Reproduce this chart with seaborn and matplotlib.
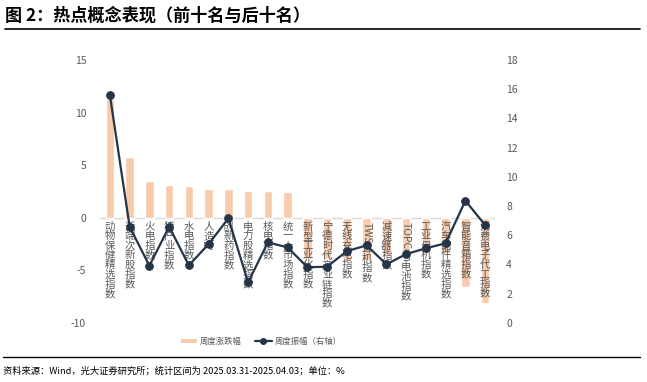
"""Hot concept indices: weekly change (bars) and weekly amplitude (line, right axis)."""
import re
import numpy as np
import pandas as pd
import matplotlib
matplotlib.use('Agg')
import matplotlib.pyplot as plt
import matplotlib.transforms as mtransforms
from matplotlib.lines import Line2D
from matplotlib.patches import Patch
import seaborn as sns

categories = ['动物保健精选指数', '近端次新股指数', '火电指数', '猪产业指数', '水电指数',
              '人造肉', '创新药指数', '电力股精选指数', '核电指数', '统一大市场指数',
              '新型工业化指数', '宁德时代产业链指数', '无线充电指数', 'TWS耳机指数', '减速器指数',
              'TOPCon电池指数', '工业母机指数', '汽车配件精选指数', '智能音箱指数', '消费电子代工指数']
weekly_change = [11.65, 5.73, 3.5, 3.07, 3.0, 2.77, 2.7, 2.54, 2.54, 2.47,
                 -3.9, -3.9, -4.1, -4.0, -3.6, -3.5, -3.4, -3.4, -6.6, -8.1]
weekly_amplitude = [15.6, 6.58, 3.9, 6.58, 3.93, 5.39, 7.15, 2.77, 5.5, 5.16,
                    3.8, 3.84, 4.9, 5.3, 4.0, 4.7, 5.1, 5.44, 8.36, 6.69]
left_ticks = [-10, -5, 0, 5, 10, 15]
right_ticks = [0, 2, 4, 6, 8, 10, 12, 14, 16, 18]

BAR = '#F8CBAD'
LINE = '#253447'
GRAY = '#595959'

sns.set_style('white')
plt.rcParams['font.family'] = ['Noto Sans CJK SC', 'DejaVu Sans']
plt.rcParams['axes.unicode_minus'] = False

df = pd.DataFrame({'name': categories, 'chg': weekly_change, 'amp': weekly_amplitude})
df['pos'] = np.arange(len(df))

fig = plt.figure(figsize=(6.47, 3.82), dpi=100)
ax = fig.add_axes([100 / 647, 1 - 322.7 / 382, 395 / 647, 262.7 / 382])
sns.barplot(data=df, x='pos', y='chg', color=BAR, width=0.42, saturation=1, ax=ax)
ax.axhline(0, color='#D9D9D9', lw=1, zorder=0.5)
ax.set_xlim(-0.5, len(df) - 0.5)
ax.set_ylim(-10, 15)
ax.set_yticks(left_ticks)
ax.set_yticklabels([str(t) for t in left_ticks])
ax.set_xticks([])
ax.set_xlabel('')
ax.set_ylabel('')
ax.tick_params(axis='y', length=0, pad=10, labelsize=7.5, labelcolor=GRAY)

ax2 = ax.twinx()
sns.lineplot(data=df, x='pos', y='amp', color=LINE, lw=1.6, marker='o', markersize=5.5,
             markeredgecolor=LINE, ax=ax2)
ax2.set_ylim(0, 18)
ax2.set_yticks(right_ticks)
ax2.set_yticklabels([str(t) for t in right_ticks])
ax2.set_ylabel('')
ax2.set_xlabel('')
ax2.tick_params(axis='y', length=0, pad=8, labelsize=7.5, labelcolor=GRAY)
ax2.set_xlim(-0.5, len(df) - 0.5)
for a in (ax, ax2):
    for s in a.spines.values():
        s.set_visible(False)

# vertical category labels, latin prefixes rotated like Excel does
fig.canvas.draw()
renderer = fig.canvas.get_renderer()
top_gap = 4
for i, name in enumerate(categories):
    m = re.match(r'[A-Za-z]+', name)
    shift = top_gap
    rest = name
    if m:
        latin = m.group(0)
        tr = mtransforms.offset_copy(ax.transData, fig=fig, y=-shift, units='dots')
        t = ax.text(i, 0, latin, rotation=-90, ha='center', va='top', fontsize=7.5,
                    color=GRAY, transform=tr)
        shift += t.get_window_extent(renderer).height + 1
        rest = name[len(latin):]
    tr = mtransforms.offset_copy(ax.transData, fig=fig, y=-shift, units='dots')
    ax.text(i, 0, '\n'.join(rest), ha='center', va='top', fontsize=7.5, color=GRAY,
            linespacing=0.95, transform=tr)

# title and rules
fig.text(5 / 647, 1 - 16 / 382, '图 2：热点概念表现（前十名与后十名）', fontsize=12.3,
         fontweight='bold', va='center', ha='left', color='black')
fig.add_artist(Line2D([5 / 647, 640 / 647], [1 - 28.5 / 382] * 2, color='black', lw=1.2))
fig.add_artist(Line2D([3 / 647, 640 / 647], [1 - 356.5 / 382] * 2, color='black', lw=1.0))
fig.text(3 / 647, 1 - 371 / 382,
         '资料来源：Wind，光大证券研究所；统计区间为 2025.03.31-2025.04.03；单位：%',
         fontsize=6.7, va='center', ha='left', color='black')

handles = [Patch(facecolor=BAR, edgecolor='none'),
           Line2D([0], [0], color=LINE, lw=1.6, marker='o', markersize=4)]
fig.legend(handles, ['周度涨跌幅', '周度振幅（右轴）'], loc='center',
           bbox_to_anchor=(261 / 647, 1 - 341.5 / 382), ncol=2, frameon=False,
           fontsize=6, labelcolor=GRAY, handlelength=2.0, handleheight=0.5,
           columnspacing=1.6, handletextpad=0.3)

fig.savefig('out.png', dpi=100)
